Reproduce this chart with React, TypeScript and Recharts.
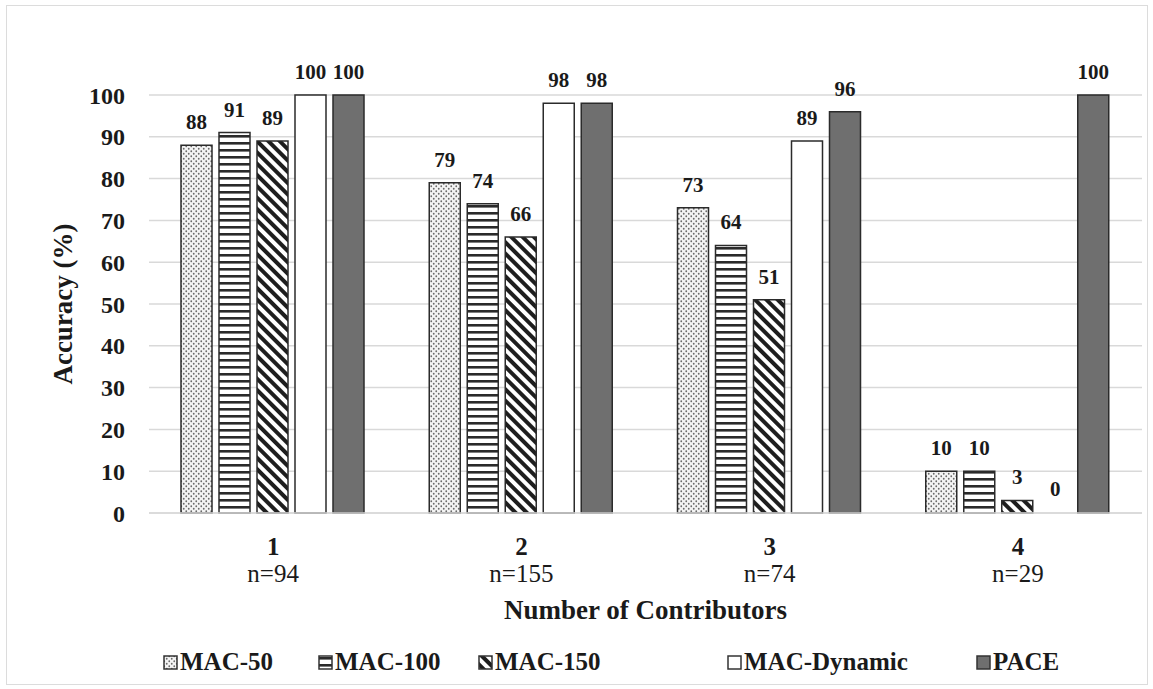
import React from 'react'
import { BarChart, Bar, XAxis, YAxis, CartesianGrid, LabelList, Label, Rectangle } from 'recharts'

// contributors groups
const categories = ['1', '2', '3', '4']
const sampleSizes = ['n=94', 'n=155', 'n=74', 'n=29']

// accuracy (%) per method
const mac50 = [88, 79, 73, 10]
const mac100 = [91, 74, 64, 10]
const mac150 = [89, 66, 51, 3]
const macDynamic = [100, 98, 89, 0]
const pace = [100, 98, 96, 100]

const yTicks = [0, 10, 20, 30, 40, 50, 60, 70, 80, 90, 100]

const FONT = "'Liberation Serif', 'Times New Roman', serif"
const INK = '#1a1a1a'

const series = [
  { key: 'mac50', name: 'MAC-50', fill: 'url(#dots)' },
  { key: 'mac100', name: 'MAC-100', fill: 'url(#hlines)' },
  { key: 'mac150', name: 'MAC-150', fill: 'url(#diag)' },
  { key: 'macDynamic', name: 'MAC-Dynamic', fill: '#ffffff' },
  { key: 'pace', name: 'PACE', fill: '#6f6f6f' }
]

const data = categories.map((c, i) => ({
  name: c,
  mac50: mac50[i],
  mac100: mac100[i],
  mac150: mac150[i],
  macDynamic: macDynamic[i],
  pace: pace[i]
}))

// zero values keep their label but draw no box
const BarShape = (props: any) => {
  if (props.value === 0 || (Array.isArray(props.value) && props.value[1] === 0)) return <g />
  return <Rectangle {...props} />
}

const CategoryTick = ({ x, y, payload }: any) => {
  const i = categories.indexOf(payload.value)
  return (
    <g fontFamily={FONT} fill={INK}>
      <text x={x} y={y + 42} textAnchor="middle" fontSize={25} fontWeight="bold">{payload.value}</text>
      <text x={x} y={y + 69} textAnchor="middle" fontSize={25}>{sampleSizes[i]}</text>
    </g>
  )
}

const XTitle = ({ viewBox }: any) => (
  <text x={viewBox.x + viewBox.width / 2} y={viewBox.y + 106} textAnchor="middle"
    fontFamily={FONT} fontSize={27} fontWeight="bold" fill={INK}>
    Number of Contributors
  </text>
)

const YTitle = ({ viewBox }: any) => {
  const cx = 72
  const cy = viewBox.y + viewBox.height / 2
  return (
    <text x={cx} y={cy} textAnchor="middle" transform={`rotate(-90 ${cx} ${cy})`}
      fontFamily={FONT} fontSize={27} fontWeight="bold" fill={INK}>
      Accuracy (%)
    </text>
  )
}

const legendWidths = [155, 160, 249, 249, 120]

const ChartLegend = () => (
  <div style={{ position: 'absolute', left: 163, top: 648, display: 'flex', fontFamily: FONT, fontWeight: 'bold', fontSize: 25, color: INK }}>
    {series.map((s, i) => (
      <div key={s.key} style={{ width: legendWidths[i], display: 'flex', alignItems: 'center' }}>
        <svg width={15} height={15} style={{ marginRight: 2 }}>
          <rect x={1} y={1} width={13} height={13} fill={s.fill} stroke="#333" strokeWidth={1.5} />
        </svg>
        <span>{s.name}</span>
      </div>
    ))}
  </div>
)

export default function App() {
  return (
    <div style={{ position: 'absolute', left: 0, top: 0, width: 1153, height: 689, background: '#fff' }}>
      <div style={{ position: 'absolute', left: 6, top: 5, width: 1140, height: 678, border: '1px solid #dcdcdc' }} />
      <div style={{ position: 'absolute', left: 0, top: 0 }}>
        <BarChart width={1153} height={689} data={data}
          margin={{ top: 95, right: 11, bottom: 66, left: 40 }}
          barCategoryGap={32} barGap={7}>
          <defs>
            <pattern id="dots" width="5" height="5" patternUnits="userSpaceOnUse">
              <rect width="5" height="5" fill="#f4f4f4" />
              <circle cx="1.25" cy="1.25" r="0.9" fill="#6a6a6a" />
              <circle cx="3.75" cy="3.75" r="0.9" fill="#6a6a6a" />
            </pattern>
            <pattern id="hlines" width="8" height="7" patternUnits="userSpaceOnUse">
              <rect width="8" height="7" fill="#ffffff" />
              <rect y="2" width="8" height="2.6" fill="#2a2a2a" />
            </pattern>
            <pattern id="diag" width="8" height="8" patternUnits="userSpaceOnUse" patternTransform="rotate(-45)">
              <rect width="8" height="8" fill="#ffffff" />
              <rect width="4" height="8" fill="#1e1e1e" />
            </pattern>
          </defs>
          <CartesianGrid vertical={false} stroke="#d9d9d9" strokeWidth={1.5} />
          <XAxis dataKey="name" tickLine={false} tickSize={0} tickMargin={0} height={110}
            axisLine={{ stroke: '#d9d9d9', strokeWidth: 1.5 }} tick={<CategoryTick />} interval={0}>
            <Label content={<XTitle />} />
          </XAxis>
          <YAxis domain={[0, 100]} ticks={yTicks} width={109} tickLine={false} tickSize={0} tickMargin={24}
            axisLine={false} interval={0}
            tick={{ fill: INK, fontFamily: FONT, fontSize: 24, fontWeight: 'bold' }}>
            <Label content={<YTitle />} />
          </YAxis>
          {series.map(s => (
            <Bar key={s.key} dataKey={s.key} name={s.name} fill={s.fill} stroke="#2b2b2b" strokeWidth={1.5}
              minPointSize={1} shape={<BarShape />} isAnimationActive={false}>
              <LabelList dataKey={s.key} position="top" offset={16}
                style={{ fill: INK, fontFamily: FONT, fontSize: 21, fontWeight: 'bold' }} />
            </Bar>
          ))}
        </BarChart>
      </div>
      <ChartLegend />
    </div>
  )
}
